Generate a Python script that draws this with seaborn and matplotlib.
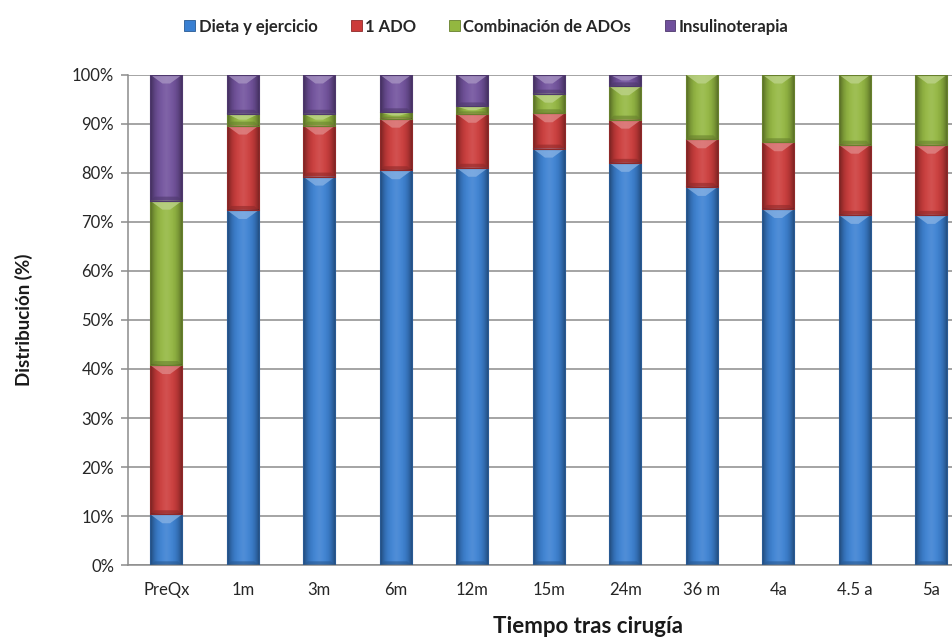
import numpy as np
import pandas as pd
import matplotlib
matplotlib.use("Agg")
import matplotlib.pyplot as plt
from matplotlib.patches import Patch, Polygon
import seaborn as sns

# Treatment distribution (%) at each follow-up time
categories = ["PreQx", "1m", "3m", "6m", "12m", "15m", "24m", "36 m", "4a", "4.5 a", "5a"]
dieta = [10.4, 72.4, 79.2, 80.5, 81.0, 84.9, 82.0, 77.1, 72.6, 71.4, 71.4]
ado1 = [30.4, 17.2, 10.4, 10.5, 11.0, 7.2, 8.8, 9.7, 13.6, 14.3, 14.3]
combinacion = [33.5, 2.4, 2.4, 1.3, 1.5, 4.0, 6.8, 13.2, 13.8, 14.3, 14.3]
insulina = [25.7, 8.0, 8.0, 7.7, 6.5, 3.9, 2.4, 0.0, 0.0, 0.0, 0.0]

series_names = ["Dieta y ejercicio", "1 ADO", "Combinación de ADOs", "Insulinoterapia"]
series_values = [dieta, ado1, combinacion, insulina]
series_colors = ["#3a80d2", "#cc3b3a", "#93b740", "#70509c"]

df = pd.DataFrame({"cat": categories})
for name, vals in zip(series_names, series_values):
    df[name] = vals
cum = df[series_names].cumsum(axis=1)
cum["cat"] = categories

sns.set_theme(style="white")
plt.rcParams["font.family"] = ["Lato", "DejaVu Sans"]

fig = plt.figure(figsize=(9.52, 6.37), dpi=100)
ax = fig.add_axes([128 / 952, 1 - 565.3 / 637, 841.5 / 952, (565.3 - 74.5) / 637])

bar_width = 0.42
# stacked bars: draw the cumulative totals from the top layer down
for name, color in reversed(list(zip(series_names, series_colors))):
    sns.barplot(data=cum, x="cat", y=name, color=color,
                width=bar_width, saturation=1, ax=ax, zorder=2,
                edgecolor="none", linewidth=0)

n = len(categories)
ax.set_xlim(-0.5, n - 0.5)
ax.set_ylim(0, 100)

# bevel shading on each segment
px_y = (565.3 - 74.5) / 100
grad_t = np.linspace(0, 1, 64)
shade = np.clip(np.abs(2 * grad_t - 1), 0, 1) ** 3
overlay = np.zeros((1, 64, 4))
overlay[0, :, 3] = 0.45 * shade
highlight = np.ones((1, 64, 4))
highlight[0, :, 3] = 0.12 * (1 - np.abs(2 * grad_t - 1)) ** 2
for i in range(n):
    bottom = 0.0
    for vals, color in zip(series_values, series_colors):
        h = vals[i]
        if h <= 0:
            continue
        x0, x1 = i - bar_width / 2, i + bar_width / 2
        y0, y1 = bottom, bottom + h
        ax.imshow(overlay, extent=(x0, x1, y0, y1), aspect="auto",
                  interpolation="bicubic", zorder=3)
        ax.imshow(highlight, extent=(x0, x1, y0, y1), aspect="auto",
                  interpolation="bicubic", zorder=3)
        rgb = np.array(matplotlib.colors.to_rgb(color))
        light = tuple(rgb + (1 - rgb) * 0.4)
        dark = tuple(rgb * 0.7)
        by = min(9 / px_y, h / 2)
        half = 0.05
        ax.add_patch(Polygon([(x0, y1), (x1, y1), (i + half, y1 - by), (i - half, y1 - by)],
                             closed=True, facecolor=light, edgecolor="none", alpha=0.75, zorder=4))
        byb = min(4 / px_y, h / 3)
        ax.add_patch(Polygon([(x0, y0), (x1, y0), (x1 - 0.06, y0 + byb), (x0 + 0.06, y0 + byb)],
                             closed=True, facecolor=dark, edgecolor="none", alpha=0.6, zorder=4))
        ax.add_patch(plt.Rectangle((x0, y0), x1 - x0, h, fill=False,
                                   edgecolor=dark, linewidth=0.8, zorder=5))
        bottom = y1

ax.set_xlim(-0.5, n - 0.5)
ax.set_ylim(0, 100)

# gridlines and axes
ax.set_axisbelow(True)
ax.yaxis.grid(True, color="#8c8c8c", linewidth=1.1)
ax.xaxis.grid(False)
for side in ["top", "right"]:
    ax.spines[side].set_visible(False)
for side in ["left", "bottom"]:
    ax.spines[side].set_color("#8c8c8c")
    ax.spines[side].set_linewidth(1.1)

ax.set_yticks(np.arange(0, 101, 10))
ax.set_yticklabels([f"{v}%" for v in range(0, 101, 10)])
ax.set_xticks(range(n))
ax.set_xticklabels(categories)
ax.set_xticks(np.arange(-0.5, n, 1), minor=True)
ax.tick_params(axis="x", which="major", length=0, pad=12, labelsize=12, labelcolor="#262626")
ax.tick_params(axis="x", which="minor", length=5, color="#8c8c8c", width=1.1, direction="out")
ax.tick_params(axis="y", length=5, color="#8c8c8c", width=1.1, direction="out",
               pad=5, labelsize=12, labelcolor="#262626", left=True)

ax.set_xlabel("Tiempo tras cirugía", fontsize=16, fontweight="bold", color="#1a1a1a")
ax.xaxis.set_label_coords(0.547, -0.103)
ax.set_ylabel("Distribución (%)", fontsize=13.5, fontweight="bold", color="#1a1a1a")
ax.yaxis.set_label_coords(-0.113, 0.5)

handles = [Patch(facecolor=c, edgecolor=tuple(np.array(matplotlib.colors.to_rgb(c)) * 0.7), linewidth=0.6)
           for c in series_colors]
fig.legend(handles, series_names, loc="center", bbox_to_anchor=(0.511, 0.958), ncol=4,
           frameon=False, handlelength=0.65, handleheight=0.65, handletextpad=0.2,
           columnspacing=2.0, prop={"weight": "bold", "size": 12})

fig.savefig("out.png", dpi=100)
